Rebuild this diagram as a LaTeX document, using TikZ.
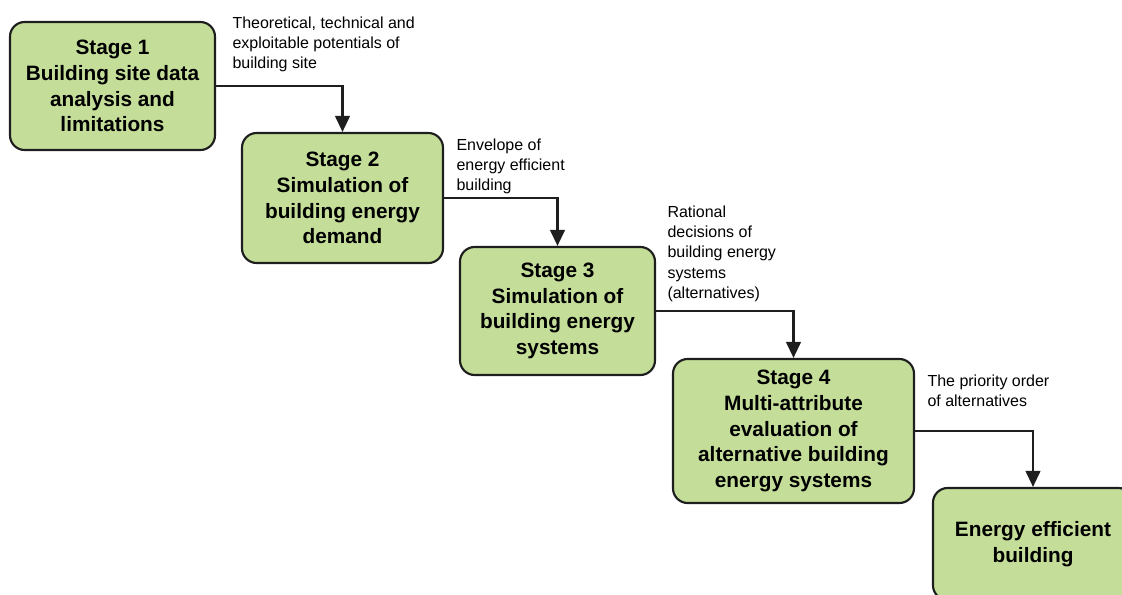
\documentclass[tikz,border=0pt]{standalone}
\usepackage{fontspec}
\setmainfont{Liberation Sans}
\usetikzlibrary{arrows.meta}

\definecolor{stagegreen}{RGB}{196,222,153}
\definecolor{stageline}{RGB}{30,30,30}

\tikzset{every picture/.style={line width=0.75pt}}
\tikzset{
  stagebox/.style={draw=stageline, fill=stagegreen, line width=1.6pt, rounded corners=11pt,
    align=center, inner sep=2pt, font=\bfseries\fontsize{15.6}{19.3}\selectfont},
  flowlabel/.style={anchor=north west, inner sep=0pt, align=left,
    font=\fontsize{12}{15.3}\selectfont},
  flowarrow/.style={draw=stageline, line width=1.6pt, -{Triangle[length=12pt,width=11pt]}}
}

\begin{document}
\begin{tikzpicture}[x=0.75pt,y=0.75pt,yscale=-1,xscale=1]
\useasboundingbox (0,0) rectangle (1122,595);
\clip (0,0) rectangle (1122,595);

%Shape: Rounded Rect [id:stage1] 
\node [stagebox, minimum width=153.75pt, minimum height=96pt] (stage1) at (112.5,86) {Stage 1\\Building site data\\analysis and\\limitations};
%Shape: Rounded Rect [id:stage2] 
\node [stagebox, minimum width=150.75pt, minimum height=97.5pt] (stage2) at (342.5,198) {Stage 2\\Simulation of\\building energy\\demand};
%Shape: Rounded Rect [id:stage3] 
\node [stagebox, minimum width=146.25pt, minimum height=96pt] (stage3) at (557.5,311) {Stage 3\\Simulation of\\building energy\\systems};
%Shape: Rounded Rect [id:stage4] 
\node [stagebox, minimum width=180.75pt, minimum height=108pt] (stage4) at (793.5,431) {Stage 4\\Multi-attribute\\evaluation of\\alternative building\\energy systems};
%Shape: Rounded Rect [id:result] 
\node [stagebox, minimum width=150pt, minimum height=84pt] (result) at (1033,544) {Energy efficient\\building};

%Straight Lines [id:arrow1] 
\draw [flowarrow] (stage1.east) -| (stage2.north) ;
%Straight Lines [id:arrow2] 
\draw [flowarrow] (stage2.east) -| (stage3.north) ;
%Straight Lines [id:arrow3] 
\draw [flowarrow] (stage3.east) -| (stage4.north) ;
%Straight Lines [id:arrow4] 
\draw [flowarrow] (stage4.east) -| (result.north) ;

% Text Node
\draw (232,16) node [flowlabel] (out1) {Theoretical, technical and\\exploitable potentials of\\building site};
% Text Node
\draw (456,138) node [flowlabel] (out2) {Envelope of\\energy efficient\\building};
% Text Node
\draw (667,205) node [flowlabel] (out3) {Rational\\decisions of\\building energy\\systems\\(alternatives)};
% Text Node
\draw (927,374) node [flowlabel] (out4) {The priority order\\of alternatives};

\end{tikzpicture}
\end{document}
